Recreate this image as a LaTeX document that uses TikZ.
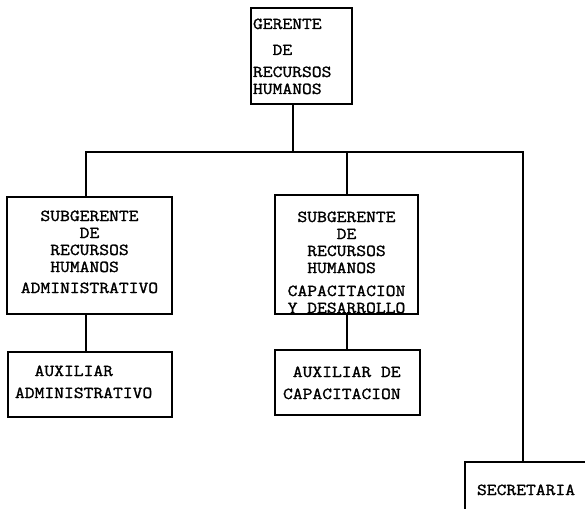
\documentclass[tikz,border=0pt]{standalone}
\usepackage{fontspec}
\setmonofont[FakeBold=1.5, FakeStretch=1.14]{Latin Modern Mono}
\begin{document}
\begin{tikzpicture}[x=1pt,y=-1pt,
  box/.style={draw, line width=1.6pt, inner ysep=0pt, text height=0pt,
    font=\ttfamily\fontsize{16.7}{17}\selectfont},
  link/.style={line width=1.6pt}]
\useasboundingbox (0,0) rectangle (585,508);
\clip (0,0) rectangle (585,508);
% boxes
\node[box, minimum width=101pt, minimum height=96pt, inner xsep=2pt,
  text width=97pt, align=left, text depth=54pt] (g) at (301.5,56)
  {GERENTE\\[9pt]\hphantom{XX}DE\\[5pt]RECURSOS\\HUMANOS};
\node[box, minimum width=165pt, minimum height=117pt, inner xsep=3pt,
  text width=159pt, align=center, text depth=69pt] (s1) at (89.5,255.5)
  {SUBGERENTE\\DE\\RECURSOS\\HUMANOS\hphantom{S}\\[4pt]ADMINISTRATIVO};
\node[box, minimum width=143pt, minimum height=119pt, inner xsep=3pt,
  text width=137pt, align=center, text depth=65pt] (s2) at (346.5,254.5)
  {SUBGERENTE\\DE\\RECURSOS\\HUMANOS\hphantom{S}\\[6pt]CAPACITACION\\Y\hphantom{X}DESARROLLO};
\node[box, minimum width=164pt, minimum height=65pt, inner xsep=7pt,
  text width=150pt, align=left, text depth=17pt] (a1) at (90,384.5)
  {\hphantom{XX}AUXILIAR\\[5pt]ADMINISTRATIVO};
\node[box, minimum width=145pt, minimum height=65pt, inner xsep=8pt,
  text width=129pt, align=left, text depth=11pt] (a2) at (347.5,382.5)
  {\hphantom{X}AUXILIAR\hphantom{X}DE\\[5pt]CAPACITACION};
\node[box, minimum width=135pt, minimum height=68pt, inner xsep=12pt,
  text width=111pt, align=left, text depth=2pt] (sec) at (532.5,496)
  {SECRETARIA};
% bus coordinates
\coordinate (bG) at (293,152);
\coordinate (bL) at (86,152);
\coordinate (bM) at (347,152);
\coordinate (bR) at (523,152);
% connectors
\draw[link] (g.south -| bG) -- (bG);
\draw[link, line join=miter] (s1.north -| bL) |- (bR) -- (sec.north -| bR);
\draw[link] (s2.north -| bM) -- (bM);
\draw[link] (s1.south -| bL) -- (a1.north -| bL);
\draw[link] (s2.south -| bM) -- (a2.north -| bM);
\end{tikzpicture}
\end{document}
